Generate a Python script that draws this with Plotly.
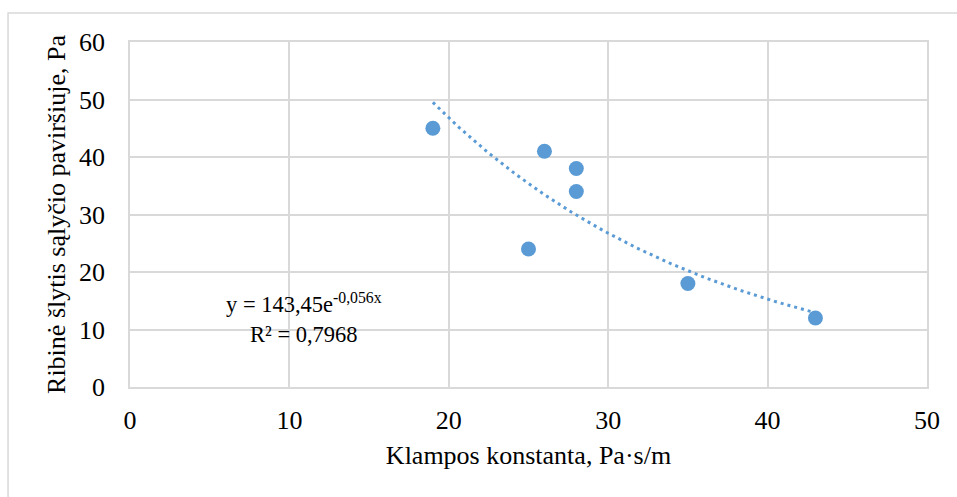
import numpy as np
import plotly.graph_objects as go

# Data
x_vals = [19, 25, 26, 28, 28, 35, 43]
y_vals = [45, 24, 41, 38, 34, 18, 12]

# Trendline coefficients (as printed on the chart)
trend_a = 143.45
trend_b = -0.056
trend_r2 = 0.7968

x_ticks = [0, 10, 20, 30, 40, 50]
y_ticks = [0, 10, 20, 30, 40, 50, 60]

blue = "#5B9BD5"
grid = "#D9D9D9"
font_family = "Liberation Serif"

tx = np.linspace(min(x_vals), max(x_vals), 200)
ty = trend_a * np.exp(trend_b * tx)

fig = go.Figure()
fig.add_trace(go.Scatter(
    x=tx, y=ty, mode="lines",
    line=dict(color=blue, width=3, dash="3px,4px"),
    hoverinfo="skip", showlegend=False,
))
fig.add_trace(go.Scatter(
    x=x_vals, y=y_vals, mode="markers",
    marker=dict(color=blue, size=15, line=dict(width=0)),
    showlegend=False,
))

fig.add_annotation(
    x=10.9, y=12.0, xref="x", yref="y",
    text="y = 143,45e<sup>-0,056x</sup><br>R² = 0,7968",
    showarrow=False, align="center",
    font=dict(family=font_family, size=22.5, color="#000000"),
)

# Outer chart border
fig.add_shape(type="rect", xref="paper", yref="paper",
              x0=-0.153, y0=-0.6, x1=1.2, y1=1.084,
              line=dict(color=grid, width=1.5), layer="below")

fig.update_layout(
    width=957, height=497,
    margin=dict(l=130, r=30, t=42, b=110),
    paper_bgcolor="white", plot_bgcolor="white",
    font=dict(family=font_family, size=26, color="#000000"),
    xaxis=dict(
        range=[0, 50], tickvals=x_ticks, ticktext=[str(v) for v in x_ticks],
        showgrid=True, gridcolor=grid, gridwidth=1.5,
        showline=True, linecolor=grid, linewidth=1.5, mirror=True,
        zeroline=False, ticks="", ticklabelstandoff=9,
        title=dict(text="Klampos konstanta, Pa·s/m", standoff=12,
                   font=dict(family=font_family, size=26)),
        tickfont=dict(family=font_family, size=26),
    ),
    yaxis=dict(
        range=[0, 60], tickvals=y_ticks, ticktext=[str(v) for v in y_ticks],
        showgrid=True, gridcolor=grid, gridwidth=1.5,
        showline=True, linecolor=grid, linewidth=1.5, mirror=True,
        zeroline=False, ticks="", ticklabelstandoff=18,
        title=dict(text="Ribinė šlytis sąlyčio paviršiuje, Pa", standoff=6,
                   font=dict(family=font_family, size=26)),
        tickfont=dict(family=font_family, size=26),
    ),
)

fig.write_html("out.html")
